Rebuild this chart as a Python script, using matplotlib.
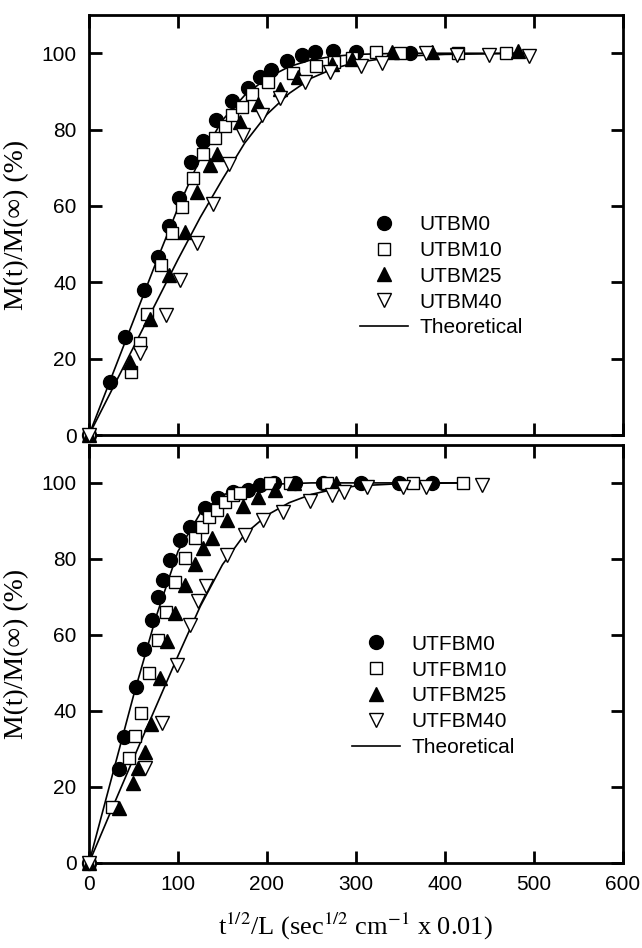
import matplotlib
matplotlib.use("Agg")
import matplotlib.pyplot as plt
from matplotlib.lines import Line2D

plt.rcParams['font.family'] = ['Liberation Sans', 'DejaVu Sans']
plt.rcParams['mathtext.fontset'] = 'stix'

# ---- top panel data (UTBM series) ----
utbm0_x = [0, 24, 41, 62, 77, 90, 101, 115, 128, 143, 161, 179, 192, 205, 222, 239, 254, 274, 300, 361]
utbm0_y = [0, 14, 25.7, 38, 46.7, 54.7, 62, 71.5, 77, 82.5, 87.5, 91, 93.8, 95.5, 98, 99.5, 100.3, 100.5, 100.3, 100]
utbm10_x = [0, 47, 57, 65, 81, 93, 104, 117, 128, 142, 153, 161, 172, 183, 201, 229, 255, 275, 295, 323, 349, 415, 469]
utbm10_y = [0, 16.6, 24, 31.8, 44.5, 52.8, 59.6, 67.2, 73.7, 77.8, 81, 83.8, 86, 89.4, 92.5, 94.9, 96.6, 97.7, 98.8, 100.3, 100, 100, 100]
utbm25_x = [0, 46, 68, 90, 108, 121, 136, 144, 170, 190, 215, 235, 273, 295, 340, 385, 482]
utbm25_y = [0, 19.2, 30.5, 41.9, 53.2, 63.7, 70.7, 73.7, 82, 86.8, 90.7, 93.8, 97.3, 98.5, 100.3, 100.3, 100.5]
utbm40_x = [0, 57, 87, 102, 121, 139, 157, 173, 194, 215, 243, 271, 306, 329, 379, 413, 449, 494]
utbm40_y = [0, 21.4, 31.4, 40.6, 50.2, 60.6, 71, 78.5, 83.8, 88.4, 92.5, 95, 96.6, 97.5, 100, 99.5, 99.5, 99.3]
top_theo1_x = [0, 25, 50, 75, 100, 125, 150, 175, 200, 225, 250, 275, 300, 350, 500]
top_theo1_y = [0, 15, 30, 45, 59.5, 72.5, 82.5, 89, 93.5, 96.5, 98.3, 99.2, 99.7, 100, 100]
top_theo2_x = [0, 25, 50, 75, 100, 125, 150, 175, 200, 225, 250, 275, 300, 350, 400, 500]
top_theo2_y = [0, 11.5, 23, 34.5, 46, 57, 67, 76.5, 84, 89.5, 93.5, 96, 97.6, 99.2, 99.7, 100]

# ---- bottom panel data (UTFBM series) ----
utfbm0_x = [0, 34, 39.7, 52.8, 62, 70.4, 77, 83.5, 91, 102, 113.5, 130, 145, 162, 179, 192, 208, 231, 263, 306, 348, 385]
utfbm0_y = [0, 24.7, 33.2, 46.2, 56.2, 64, 70, 74.5, 79.7, 85, 88.5, 93.3, 96, 97.5, 98.2, 99.5, 100, 100, 100, 100, 100, 100]
utfbm10_x = [0, 25.5, 45, 51.7, 58, 67.8, 77, 86.5, 96.6, 108, 119, 126.6, 135, 143.4, 153, 161.4, 170, 203, 226, 267, 364, 420]
utfbm10_y = [0, 14.7, 27.5, 33.4, 39.4, 50, 58.7, 66, 74, 80.2, 85.4, 88.3, 91.1, 92.9, 95, 96.8, 97.3, 100, 100, 100, 100, 100]
utfbm25_x = [0, 34, 49, 55.4, 63, 69.3, 79.8, 88, 96.6, 108, 119, 128.4, 138, 154.7, 173, 190, 209, 230, 278]
utfbm25_y = [0, 14.4, 21.1, 24.9, 29.3, 36.6, 48.6, 58.5, 65.7, 73.2, 78.7, 82.8, 85.4, 90.3, 93.8, 96.2, 98.2, 100, 100]
utfbm40_x = [0, 63, 81.6, 98.5, 113.5, 122.8, 132, 154.7, 175, 196, 218, 248, 272.7, 286, 312, 353, 379, 442]
utfbm40_y = [0, 24.9, 36.8, 52.1, 62.6, 69, 72.9, 81, 86.3, 90.3, 92.4, 95.3, 96.8, 97.7, 99, 99, 99, 99.5]
bot_theo1_x = [0, 25, 50, 75, 100, 125, 150, 175, 200, 250, 420]
bot_theo1_y = [0, 22, 44, 64.5, 82, 92, 96.8, 98.8, 99.6, 100, 100]
bot_theo2_x = [0, 25, 50, 75, 100, 125, 150, 175, 200, 225, 250, 275, 300, 350, 420]
bot_theo2_y = [0, 13.8, 27.5, 41, 54.5, 67.5, 78.5, 86.5, 91.5, 94.8, 97, 98.3, 99.2, 99.8, 100]

xticks = [0, 100, 200, 300, 400, 500, 600]
yticks = [0, 20, 40, 60, 80, 100]

serif = ['Liberation Serif', 'DejaVu Serif']

fig = plt.figure(figsize=(6.42, 9.48), dpi=100)
ax_top = fig.add_axes([0.1386, 0.5411, 0.8318, 0.443])
ax_bot = fig.add_axes([0.1386, 0.0897, 0.8318, 0.441])

styles = [
    dict(marker='o', ms=10, mfc='black', mec='black'),
    dict(marker='s', ms=8.5, mfc='white', mec='black', mew=1.0),
    dict(marker='^', ms=10, mfc='black', mec='black'),
    dict(marker='v', ms=10, mfc='white', mec='black', mew=1.0),
]


def draw_panel(ax, series, names, theo, leg_anchor):
    for (tx, ty) in theo:
        ax.plot(tx, ty, color='black', lw=1.2, zorder=2, clip_on=False)
    for (sx, sy), st in zip(series, styles):
        ax.plot(sx, sy, ls='none', zorder=3, clip_on=False, **st)
    ax.set_xlim(0, 600)
    ax.set_ylim(0, 110)
    ax.set_xticks(xticks)
    ax.set_yticks(yticks)
    ax.tick_params(direction='in', length=9, width=2, top=True, right=True,
                   labelsize=15, pad=9)
    for sp in ax.spines.values():
        sp.set_linewidth(2)
    ax.set_ylabel('M(t)/M(\u221e) (%)', family=serif, fontsize=20)
    ax.yaxis.set_label_coords(-0.112, 0.5)
    handles = [Line2D([], [], ls='none', **st) for st in styles]
    handles.append(Line2D([], [], color='black', lw=1.2))
    ax.legend(handles, names + ['Theoretical'], loc='upper left',
              bbox_to_anchor=leg_anchor, frameon=False, fontsize=15,
              borderpad=0, borderaxespad=0, handlelength=2.3,
              handletextpad=0.55, labelspacing=0.33)


draw_panel(ax_top,
           [(utbm0_x, utbm0_y), (utbm10_x, utbm10_y), (utbm25_x, utbm25_y), (utbm40_x, utbm40_y)],
           ['UTBM0', 'UTBM10', 'UTBM25', 'UTBM40'],
           [(top_theo1_x, top_theo1_y), (top_theo2_x, top_theo2_y)],
           (0.5075, 0.524))
ax_top.tick_params(labelbottom=False)

draw_panel(ax_bot,
           [(utfbm0_x, utfbm0_y), (utfbm10_x, utfbm10_y), (utfbm25_x, utfbm25_y), (utfbm40_x, utfbm40_y)],
           ['UTFBM0', 'UTFBM10', 'UTFBM25', 'UTFBM40'],
           [(bot_theo1_x, bot_theo1_y), (bot_theo2_x, bot_theo2_y)],
           (0.4925, 0.546))
ax_bot.set_xlabel(r't$^{1/2}$/L (sec$^{1/2}$ cm$^{-1}$ x 0.01)', family=serif, fontsize=19)
ax_bot.xaxis.set_label_coords(0.498, -0.115)

fig.savefig('out.png', dpi=100)
